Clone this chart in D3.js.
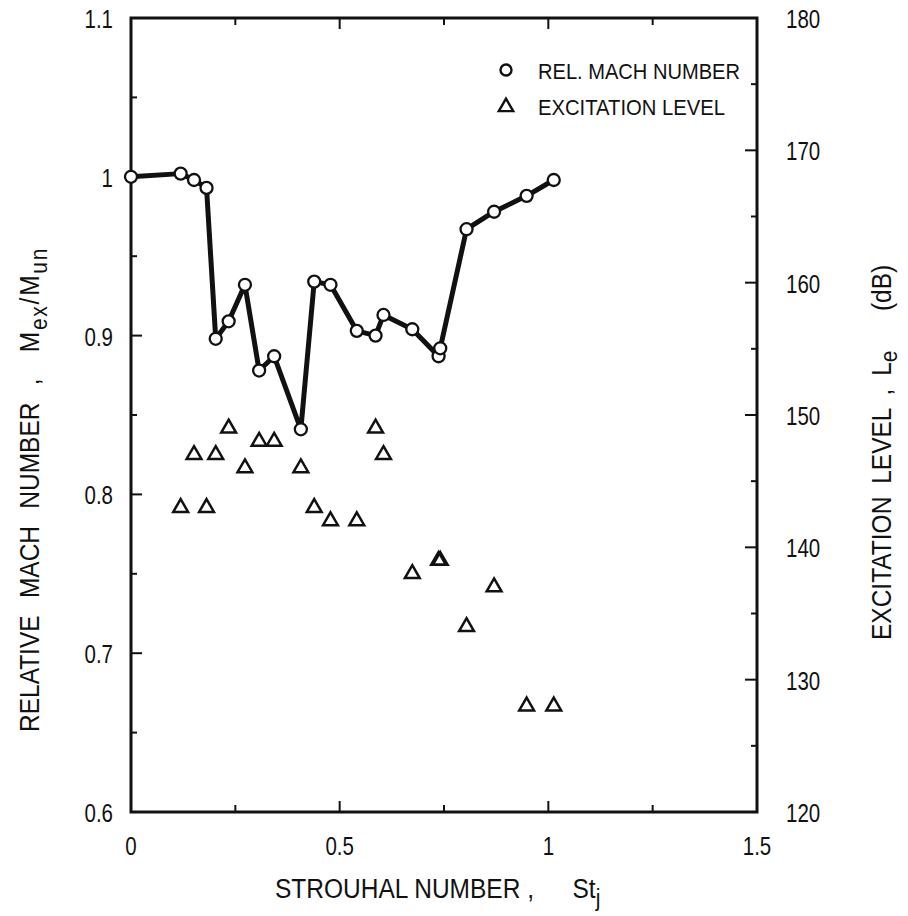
<!DOCTYPE html>
<html><head><meta charset="utf-8">
<script src="https://cdn.jsdelivr.net/npm/d3@7"></script>
<style>
html,body{margin:0;padding:0;background:#fff;}
text{font-family:"Liberation Sans",Arial,sans-serif;fill:#111;}
</style></head>
<body><svg id="c" width="908" height="916"></svg>
<script>
// Data
const strouhal = [0, 0.119, 0.151, 0.181, 0.203, 0.234, 0.273, 0.307, 0.343, 0.407, 0.439, 0.478, 0.541, 0.586, 0.605, 0.674, 0.737, 0.741, 0.804, 0.870, 0.948, 1.013];
const machRatio = [1.000, 1.002, 0.998, 0.993, 0.898, 0.909, 0.932, 0.878, 0.887, 0.841, 0.934, 0.932, 0.903, 0.900, 0.913, 0.904, 0.887, 0.892, 0.967, 0.978, 0.988, 0.998];
const excitation = [null, 143, 147, 143, 147, 149, 146, 148, 148, 146, 143, 142, 142, 149, 147, 138, 139, 139, 134, 137, 128, 128];
const xTicks = [0, 0.5, 1, 1.5];
const xTickLabels = ["0", "0.5", "1", "1.5"];
const yLeftTicks = [0.6, 0.7, 0.8, 0.9, 1.0, 1.1];
const yLeftLabels = ["0.6", "0.7", "0.8", "0.9", "1", "1.1"];
const yRightTicks = [120, 130, 140, 150, 160, 170, 180];
const legendLabels = ["REL. MACH NUMBER", "EXCITATION LEVEL"];

const svg = d3.select("#c");
const L = 131, R = 757, T = 18, B = 812;
const x = d3.scaleLinear().domain([0, 1.5]).range([L, R]);
const yL = d3.scaleLinear().domain([0.6, 1.1]).range([B, T]);
const yR = d3.scaleLinear().domain([120, 180]).range([B, T]);
const SX = 0.82;

const g = svg.append("g");

g.append("rect").attr("x", L).attr("y", T).attr("width", R - L).attr("height", B - T)
  .attr("fill", "none").attr("stroke", "#111").attr("stroke-width", 3);

const tickW = 2;
d3.range(0, 1.5001, 0.25).forEach(v => {
  const major = Math.abs(v * 2 - Math.round(v * 2)) < 1e-6;
  const len = major ? 11 : 7;
  g.append("line").attr("x1", x(v)).attr("x2", x(v)).attr("y1", B).attr("y2", B - len).attr("stroke", "#111").attr("stroke-width", tickW);
  g.append("line").attr("x1", x(v)).attr("x2", x(v)).attr("y1", T).attr("y2", T + len).attr("stroke", "#111").attr("stroke-width", tickW);
});
d3.range(0.6, 1.1001, 0.05).forEach(v => {
  const major = Math.abs(v * 10 - Math.round(v * 10)) < 1e-6;
  const len = major ? 11 : 6;
  g.append("line").attr("x1", L).attr("x2", L + len).attr("y1", yL(v)).attr("y2", yL(v)).attr("stroke", "#111").attr("stroke-width", tickW);
});
d3.range(120, 180.001, 5).forEach(v => {
  const major = v % 10 === 0;
  const len = major ? 12 : 6;
  g.append("line").attr("x1", R).attr("x2", R - len).attr("y1", yR(v)).attr("y2", yR(v)).attr("stroke", "#111").attr("stroke-width", tickW);
});

// tick labels
const fs = 25;
g.selectAll(".xl").data(xTicks).enter().append("text")
  .attr("transform", d => `translate(${x(d)},855) scale(${SX},1)`)
  .attr("text-anchor", "middle").attr("font-size", fs)
  .text((d, i) => xTickLabels[i]);
g.selectAll(".yl").data(yLeftTicks).enter().append("text")
  .attr("transform", d => `translate(113,${yL(d) + 10}) scale(${SX},1)`)
  .attr("text-anchor", "end").attr("font-size", fs)
  .text((d, i) => yLeftLabels[i]);
g.selectAll(".yr").data(yRightTicks).enter().append("text")
  .attr("transform", d => `translate(786,${yR(d) + 10}) scale(${SX},1)`)
  .attr("text-anchor", "start").attr("font-size", fs)
  .text(d => d);

// axis titles
const TF = 28, SF = 24, TS = 0.875;
const xt = g.append("text").attr("transform", `translate(275,898) scale(${TS},1)`).attr("font-size", TF);
xt.append("tspan").text("STROUHAL NUMBER ,");
xt.append("tspan").attr("x", 340).text("St");
xt.append("tspan").attr("font-size", SF).attr("dy", 8).text("j");

const ylt = g.append("text").attr("transform", `translate(39,732) rotate(-90) scale(${TS},1)`).attr("font-size", TF)
  .attr("word-spacing", 12);
ylt.append("tspan").text("RELATIVE MACH NUMBER ,");
ylt.append("tspan").attr("dx", 30).attr("letter-spacing", 2).text("M");
ylt.append("tspan").attr("font-size", SF).attr("dy", 8).attr("letter-spacing", 2).text("ex");
ylt.append("tspan").attr("dy", -8).attr("letter-spacing", 2).text("/M");
ylt.append("tspan").attr("font-size", SF).attr("dy", 8).attr("letter-spacing", 2).text("un");

const yrt = g.append("text").attr("transform", `translate(891,640) rotate(-90) scale(${TS},1)`).attr("font-size", TF)
  .attr("word-spacing", 7);
yrt.append("tspan").text("EXCITATION LEVEL , L");
yrt.append("tspan").attr("font-size", SF).attr("dy", 6).text("e");
yrt.append("tspan").attr("dy", -6).attr("dx", 45).text("(dB)");

// data line
const pts = strouhal.map((s, i) => ({ s, m: machRatio[i], e: excitation[i] }));
const line = d3.line().x(d => x(d.s)).y(d => yL(d.m));
g.append("path").datum(pts).attr("d", line).attr("fill", "none").attr("stroke", "#111")
  .attr("stroke-width", 5).attr("stroke-linejoin", "round");

// triangles
const tri = d3.symbol().type(d3.symbolTriangle).size(95);
g.selectAll(".tri").data(pts.filter(d => d.e != null)).enter().append("path")
  .attr("d", tri).attr("transform", d => `translate(${x(d.s)},${yR(d.e)})`)
  .attr("fill", "none").attr("stroke", "#111").attr("stroke-width", 2.5);

// circles
g.selectAll(".cir").data(pts).enter().append("circle")
  .attr("cx", d => x(d.s)).attr("cy", d => yL(d.m)).attr("r", 6)
  .attr("fill", "#fff").attr("stroke", "#111").attr("stroke-width", 2.3);

// legend
g.append("circle").attr("cx", 506).attr("cy", 70).attr("r", 5.5).attr("fill", "#fff").attr("stroke", "#111").attr("stroke-width", 2.4);
g.append("path").attr("d", d3.symbol().type(d3.symbolTriangle).size(90)).attr("transform", "translate(506,107)")
  .attr("fill", "none").attr("stroke", "#111").attr("stroke-width", 2.4);
g.selectAll(".lg").data(legendLabels).enter().append("text")
  .attr("x", 538).attr("y", (d, i) => 79 + i * 36).attr("font-size", 22)
  .attr("textLength", (d, i) => i === 0 ? 202 : 187).attr("lengthAdjust", "spacingAndGlyphs")
  .text(d => d);
</script></body></html>
